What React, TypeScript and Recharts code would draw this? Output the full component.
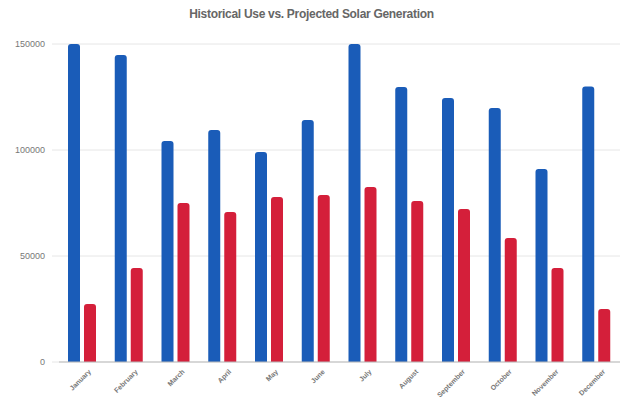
import React from "react";
import { BarChart, Bar, XAxis, YAxis, CartesianGrid } from "recharts";

const months = ["January","February","March","April","May","June","July","August","September","October","November","December"];
const historicalUse = [150000,144800,104200,109400,99000,114100,150000,129700,124500,119800,91000,130000];
const projectedSolar = [27300,44300,75000,70800,77800,78800,82500,76000,72200,58500,44300,25000];
const yTicks = [0,50000,100000,150000];

const data = months.map((m, i) => ({ month: m, use: historicalUse[i], solar: projectedSolar[i] }));

const XTick = (props: any) => {
  const { x, y, payload } = props;
  return (
    <g transform={`translate(${x + 7},${y})`}>
      <text x={0} y={0} dy={3} textAnchor="end" transform="rotate(-45)" fontSize={7} fontWeight="bold" fill="#777" fontFamily="Liberation Sans, Arial, sans-serif">
        {payload.value}
      </text>
    </g>
  );
};

export default function App() {
  return (
    <div style={{ position: "fixed", left: 0, top: 0, width: 623, height: 402, background: "#fff" }}>
      <div style={{ position: "absolute", left: 0, top: 7, width: 623, textAlign: "center", fontFamily: "Liberation Sans, Arial, sans-serif", fontSize: 12, fontWeight: "bold", color: "#666", letterSpacing: -0.3 }}>
        Historical Use vs. Projected Solar Generation
      </div>
      <BarChart width={623} height={402} data={data} margin={{ top: 44, right: 3, bottom: 0, left: 0 }} barSize={12} barGap={4}>
        <CartesianGrid vertical={false} stroke="#e6e6e6" />
        <XAxis dataKey="month" height={40} tick={<XTick />} tickLine={false} axisLine={{ stroke: "#bbb" }} interval={0} />
        <YAxis width={59} domain={[0, 150000]} ticks={yTicks} tickLine={{ stroke: "#e6e6e6" }} tickSize={7} tickMargin={7} axisLine={false} tick={{ fontSize: 9, fill: "#777", fontFamily: "Liberation Sans, Arial, sans-serif" }} />
        <Bar dataKey="use" fill="#1a5cb8" radius={[3, 3, 0, 0]} isAnimationActive={false} />
        <Bar dataKey="solar" fill="#d41f3a" radius={[3, 3, 0, 0]} isAnimationActive={false} />
      </BarChart>
    </div>
  );
}
